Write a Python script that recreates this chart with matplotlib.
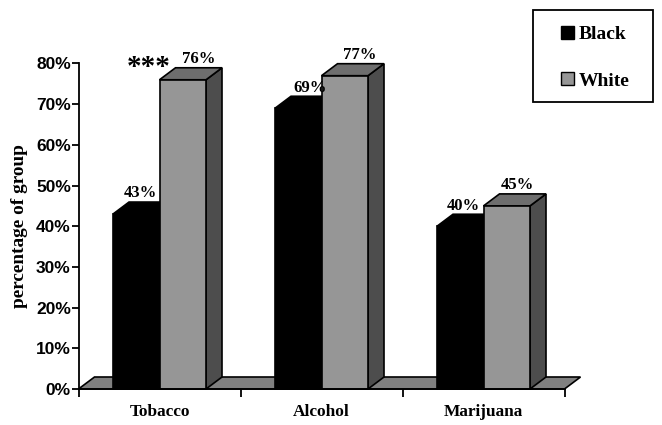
import matplotlib
matplotlib.use("Agg")
from matplotlib import pyplot as plt
from matplotlib.patches import Polygon, Patch, Rectangle
import numpy as np

categories = ["Tobacco", "Alcohol", "Marijuana"]
black_vals = [43, 69, 40]
white_vals = [76, 77, 45]
yticks = [0, 10, 20, 30, 40, 50, 60, 70, 80]

W, H = 662, 425
fig = plt.figure(figsize=(W / 100, H / 100), dpi=100)
# axes box in pixels: x 78.5-564.5, y 63.5-389
ax = fig.add_axes([78.5 / W, 1 - 389 / H, 486 / W, 325.5 / H])
ax.set_xlim(0, 3)
ax.set_ylim(0, 80)

# 3d look: depth in data units
dx = 16 / 162
dy = 12 / (325.5 / 80)
bw = 46.5 / 162
start = 34.5 / 162


def box(x, v, front, top, side):
    w = bw
    ax.add_patch(Polygon([(x + w, 0), (x + w + dx, dy), (x + w + dx, v + dy), (x + w, v)],
                         fc=side, ec="black", lw=1.2, clip_on=False, zorder=3))
    ax.add_patch(Polygon([(x, v), (x + dx, v + dy), (x + w + dx, v + dy), (x + w, v)],
                         fc=top, ec="black", lw=1.2, clip_on=False, zorder=3))
    ax.add_patch(Polygon([(x, 0), (x, v), (x + w, v), (x + w, 0)],
                         fc=front, ec="black", lw=1.2, clip_on=False, zorder=4))


# floor
ax.add_patch(Polygon([(0, 0), (dx, dy), (3 + dx, dy), (3, 0)], fc="#808080", ec="black",
                     lw=1.2, clip_on=False, zorder=1))

label_dx = [[4, 16], [12, 15], [3, 11]]
for i in range(3):
    x = i + start
    box(x, black_vals[i], "black", "black", "black")
    box(x + bw, white_vals[i], "#969696", "#6e6e6e", "#4d4d4d")
    for j, v in enumerate([black_vals[i], white_vals[i]]):
        cx = x + bw * (j + 0.5) + label_dx[i][j] / 162
        ax.annotate("%d%%" % v, (cx, v + dy), xytext=(0, 0.5), textcoords="offset points",
                    ha="center", va="bottom", family="Liberation Serif", weight="bold",
                    fontsize=12, zorder=6, annotation_clip=False)

ax.text(start + bw - 10.5 / 162, white_vals[0] + dy, "***", family="Liberation Serif",
        weight="bold", fontsize=21, ha="center", va="center", zorder=6)

for s in ["top", "right"]:
    ax.spines[s].set_visible(False)
for s in ["left", "bottom"]:
    ax.spines[s].set_linewidth(1.3)
    ax.spines[s].set_zorder(5)

ax.set_yticks(yticks)
ax.set_yticklabels(["%d%%" % t for t in yticks], family="Liberation Sans", weight="bold", fontsize=12.5)
ax.tick_params(axis="y", length=5, width=1.3, pad=0.5)
ax.set_xticks([0, 1, 2, 3])
ax.set_xticklabels([])
ax.set_xticks([0.5, 1.5, 2.5], categories, minor=True, family="Liberation Serif",
              weight="bold", fontsize=12.4)
ax.tick_params(axis="x", which="major", length=6, width=1.3)
ax.tick_params(axis="x", which="minor", length=0, pad=11)
ax.set_ylabel("percentage of group", family="Liberation Serif", weight="bold", fontsize=13.9, labelpad=6)

# legend frame is a separate box, entries placed inside it
fig.add_artist(Rectangle((533 / W, 1 - 102 / H), 120 / W, 92 / H, transform=fig.transFigure,
                         fc="white", ec="black", lw=1.3))
handles = [Patch(fc="black", ec="black"), Patch(fc="#969696", ec="black")]
fig.legend(handles, ["Black", "White"], loc="upper left", bbox_to_anchor=(561 / W, 1 - 26 / H),
           bbox_transform=fig.transFigure, frameon=False,
           prop={"family": "Liberation Serif", "weight": "bold", "size": 14},
           handlelength=0.65, handleheight=0.65, handletextpad=0.28, labelspacing=1.5,
           borderpad=0, borderaxespad=0)

fig.savefig("out.png", dpi=100)
